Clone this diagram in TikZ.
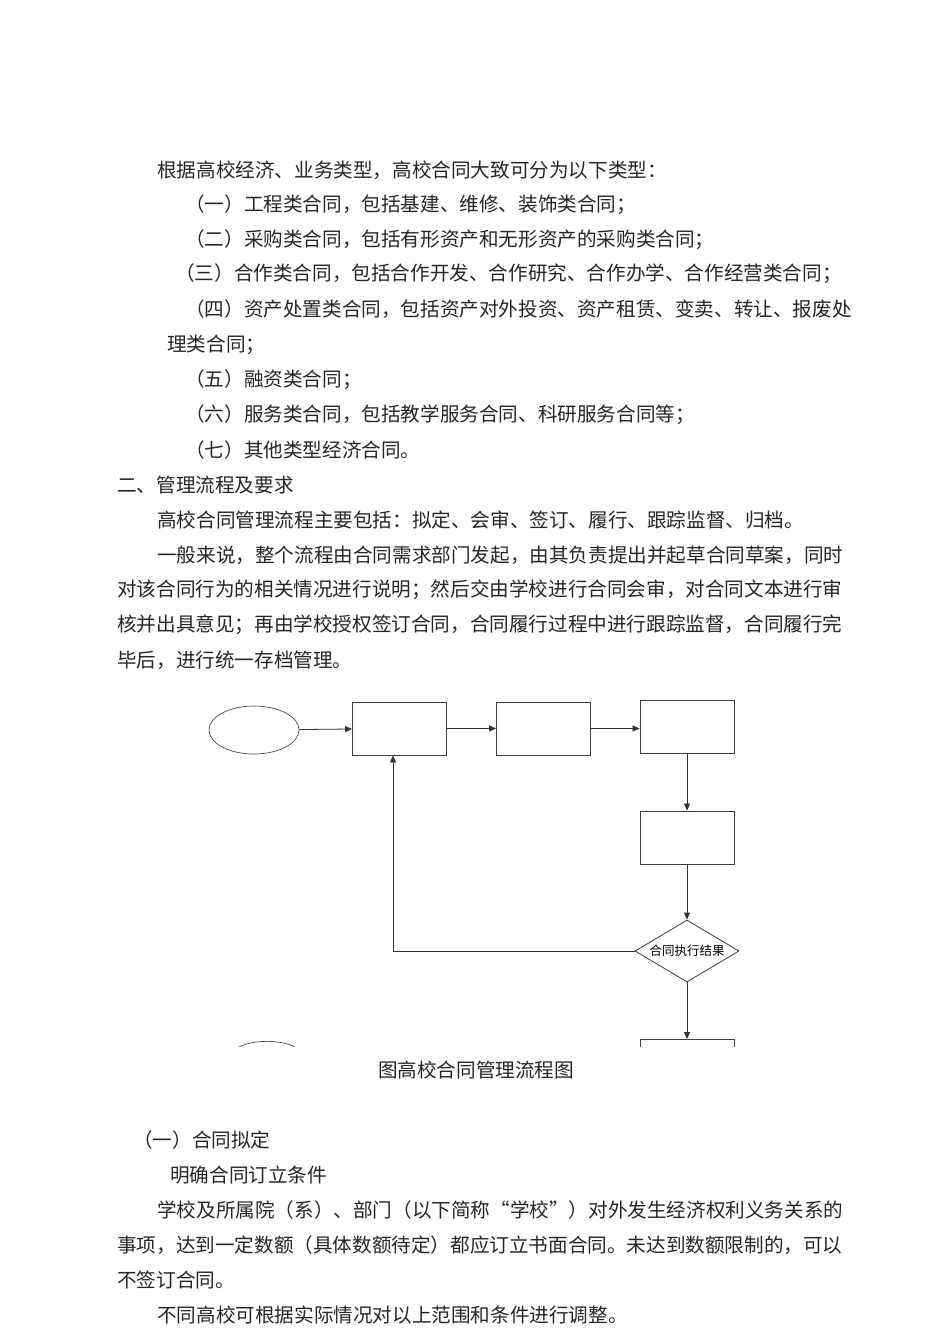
\documentclass[tikz,border=0pt]{standalone}
\usepackage{fontspec}
\setmainfont{Noto Sans CJK SC}
\usetikzlibrary{shapes.geometric,arrows.meta}
\begin{document}
\begin{tikzpicture}[x=1pt,y=-1pt,
  txt/.style={anchor=west,inner sep=0pt,font=\fontsize{19.6}{20}\selectfont,text=black!85},
  box/.style={draw=black!75,line width=0.9pt,minimum width=94pt,minimum height=53pt,inner sep=0pt},
  arr/.style={draw=black!80,line width=0.8pt,-{Triangle[length=7pt,width=6pt]}}]
\useasboundingbox (0,0) rectangle (950,1344);
\fill[white] (0,0) rectangle (950,1344);
\node[txt] (l1) at (157,170) {根据高校经济、业务类型，高校合同大致可分为以下类型：};
\node[txt] (l2) at (185,205) {（一）工程类合同，包括基建、维修、装饰类合同；};
\node[txt] (l3) at (185,240) {（二）采购类合同，包括有形资产和无形资产的采购类合同；};
\node[txt] (l4) at (175,274) {（三）合作类合同，包括合作开发、合作研究、合作办学、合作经营类合同；};
\node[txt] (l5) at (185,309) {（四）资产处置类合同，包括资产对外投资、资产租赁、变卖、转让、报废处};
\node[txt] (l6) at (167,345) {理类合同；};
\node[txt] (l7) at (185,380) {（五）融资类合同；};
\node[txt] (l8) at (185,415) {（六）服务类合同，包括教学服务合同、科研服务合同等；};
\node[txt] (l9) at (185,450) {（七）其他类型经济合同。};
\node[txt] (l10) at (117,485) {二、管理流程及要求};
\node[txt] (l11) at (157,520) {高校合同管理流程主要包括：拟定、会审、签订、履行、跟踪监督、归档。};
\node[txt] (l12) at (157,555) {一般来说，整个流程由合同需求部门发起，由其负责提出并起草合同草案，同时};
\node[txt] (l13) at (117,590) {对该合同行为的相关情况进行说明；然后交由学校进行合同会审，对合同文本进行审};
\node[txt] (l14) at (117,625) {核并出具意见；再由学校授权签订合同，合同履行过程中进行跟踪监督，合同履行完};
\node[txt] (l15) at (117,660) {毕后，进行统一存档管理。};
\node[txt,anchor=center] (cap) at (476,1070) {图高校合同管理流程图};
\node[txt] (l16) at (133,1140) {（一）合同拟定};
\node[txt] (l17) at (170,1175) {明确合同订立条件};
\node[txt] (l18) at (157,1210) {学校及所属院（系）、部门（以下简称“学校”）对外发生经济权利义务关系的};
\node[txt] (l19) at (117,1245) {事项，达到一定数额（具体数额待定）都应订立书面合同。未达到数额限制的，可以};
\node[txt] (l20) at (117,1280) {不签订合同。};
\node[txt] (l21) at (157,1315) {不同高校可根据实际情况对以上范围和条件进行调整。};
\begin{scope}
\clip (200,690) rectangle (760,1046);
\node[draw=black!70,ellipse,line width=0.7pt,minimum width=90pt,minimum height=48pt] (s) at (254,730) {};
\node[box] (b1) at (399.5,728.5) {};
\node[box] (b2) at (543.5,728.5) {};
\node[box] (b3) at (687,726.5) {};
\node[box] (b4) at (687,837.5) {};
\node[draw=black!75,diamond,line width=0.8pt,minimum width=104pt,minimum height=62pt,inner sep=0pt,aspect=1.7,font=\fontsize{12.5}{13}\selectfont] (d) at (687,951) {合同执行结果};
\node[box,anchor=north] (b5) at (687,1039) {};
\node[draw=black!70,ellipse,line width=0.7pt,minimum width=72pt,minimum height=30pt,anchor=north] (e) at (267,1041) {};
\draw[arr] (s) -- (b1);
\draw[arr] (b1) -- (b2);
\draw[arr] (b2) -- (b3.west |- b2);
\draw[arr] (b3) -- (b4);
\draw[arr] (b4) -- (d);
\draw[arr] (d.west) -| (b1.south -| 393,0);
\draw[arr] (d) -- (b5);
\end{scope}
\end{tikzpicture}
\end{document}
